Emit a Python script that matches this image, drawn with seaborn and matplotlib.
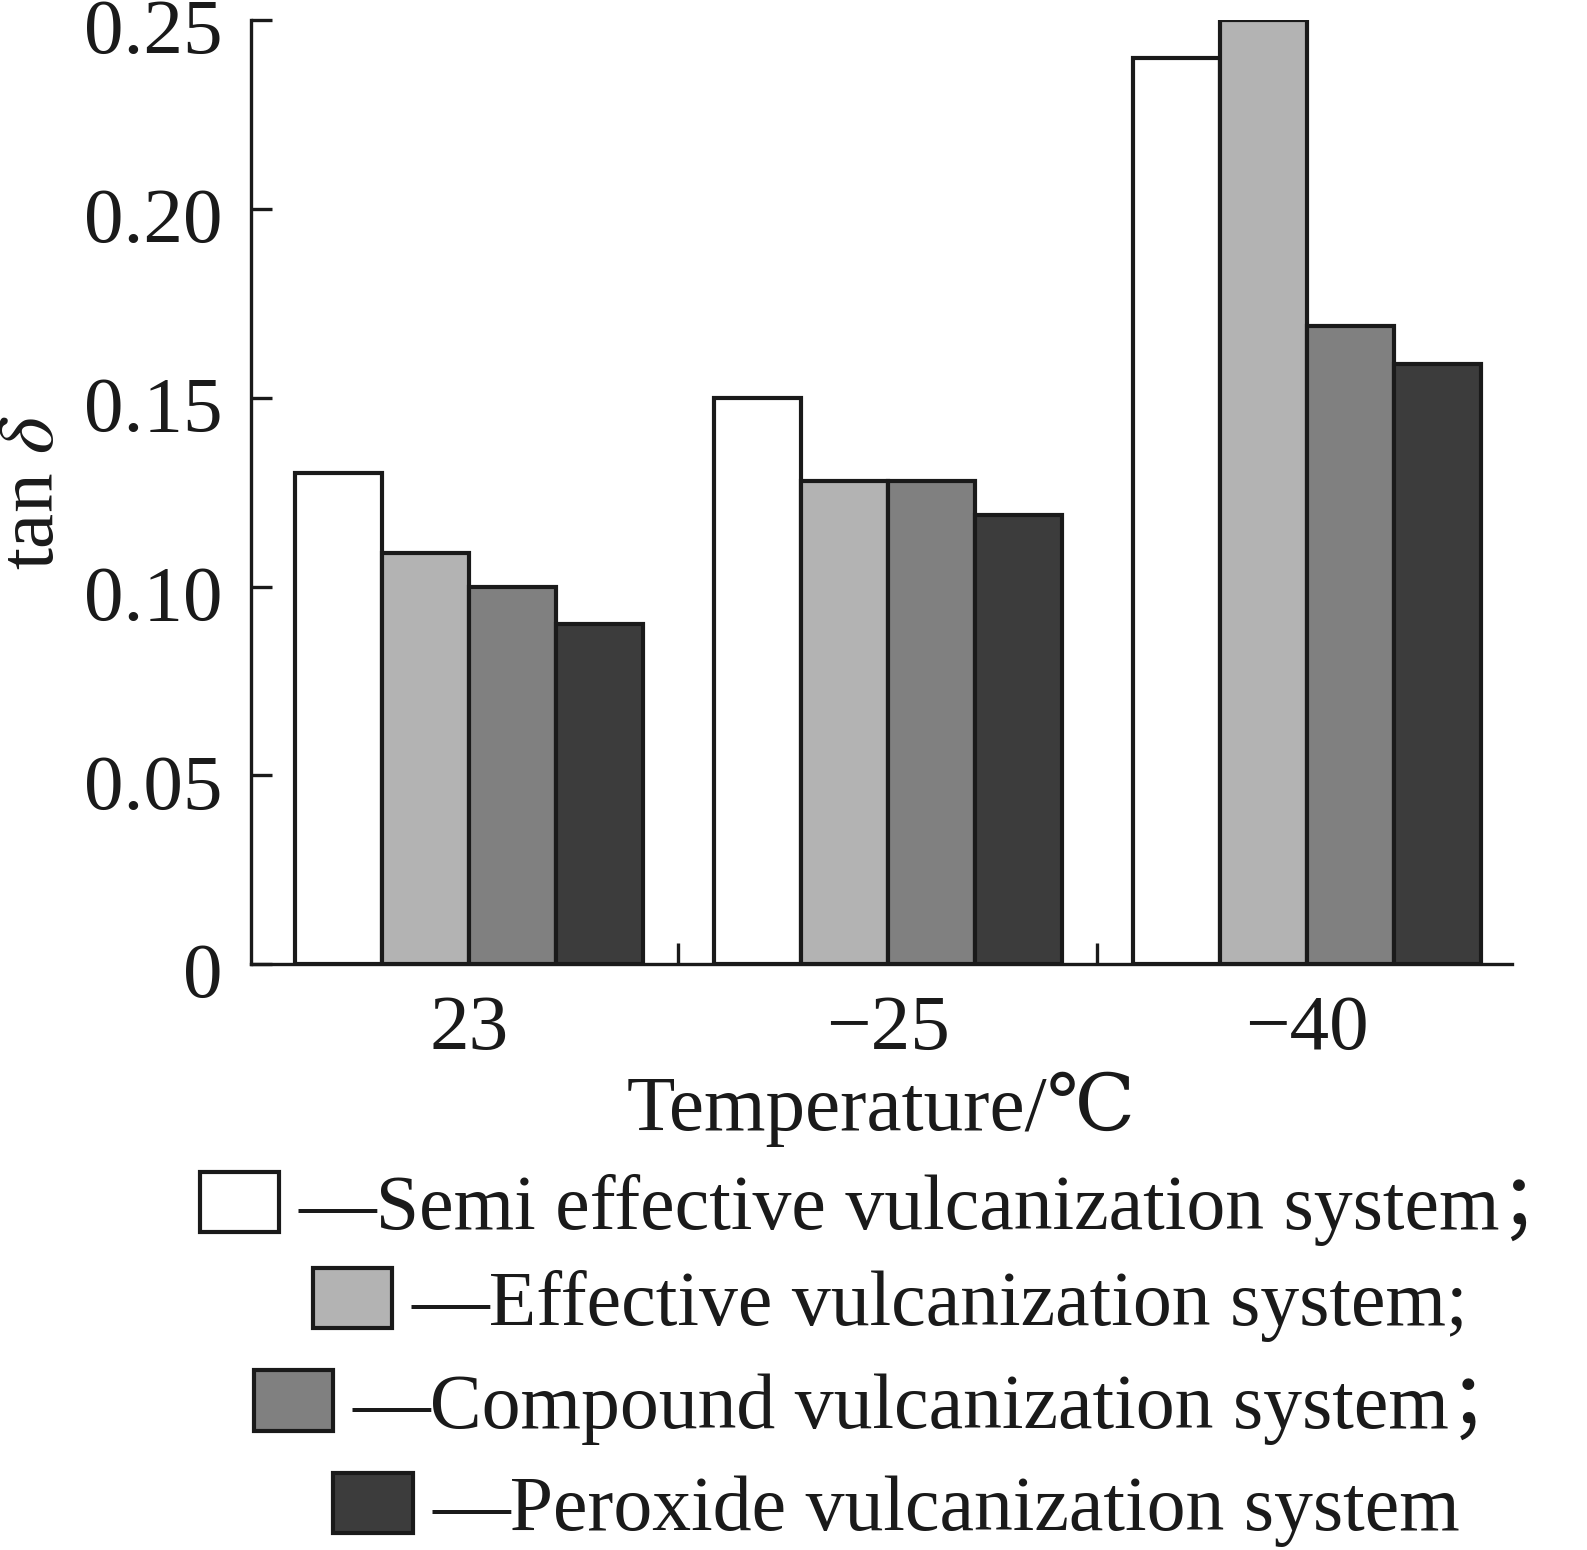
import numpy as np
import pandas as pd
import seaborn as sns
import matplotlib.pyplot as plt
import matplotlib.transforms as mtrans
from matplotlib.patches import Patch
from matplotlib.ticker import FixedLocator

# Data
temperatures = ["23", "\u221225", "\u221240"]
systems = [
    "Semi effective vulcanization system\uff1b",
    "Effective vulcanization system;",
    "Compound vulcanization system\uff1b",
    "Peroxide vulcanization system",
]
semi_effective = [0.130, 0.150, 0.240]
effective = [0.109, 0.128, 0.250]
compound = [0.100, 0.128, 0.169]
peroxide = [0.090, 0.119, 0.159]
y_ticks = [0, 0.05, 0.10, 0.15, 0.20, 0.25]
y_tick_labels = ["0", "0.05", "0.10", "0.15", "0.20", "0.25"]

colors = ["#ffffff", "#b3b3b3", "#808080", "#3c3c3c"]
edge = "#1a1a1a"

rows = []
for sys_name, vals in zip(systems, [semi_effective, effective, compound, peroxide]):
    for t, v in zip(temperatures, vals):
        rows.append({"temp": t, "tan_delta": v, "system": sys_name})
df = pd.DataFrame(rows)

sns.set_style("white")
fonts = ["Liberation Serif", "DejaVu Serif", "Noto Sans CJK SC"]
plt.rcParams["font.family"] = fonts
plt.rcParams["mathtext.fontset"] = "stix"
for key in ["text.color", "axes.labelcolor", "xtick.color", "ytick.color"]:
    plt.rcParams[key] = edge

fig = plt.figure(figsize=(15.87, 15.5), dpi=100)
ax = fig.add_axes([0.158, 0.378, 0.795, 0.609])

sns.barplot(
    data=df, x="temp", y="tan_delta", hue="system",
    order=temperatures, hue_order=systems, palette=colors,
    width=0.83, saturation=1, edgecolor=edge, linewidth=3,
    legend=False, ax=ax,
)

ax.set_ylim(0, 0.25)
ax.set_xlim(-0.52, 2.49)
ax.set_yticks(y_ticks)
ax.set_yticklabels(y_tick_labels)
ax.xaxis.set_minor_locator(FixedLocator([0.5, 1.5]))

for side in ["top", "right"]:
    ax.spines[side].set_visible(False)
for side in ["left", "bottom"]:
    ax.spines[side].set_linewidth(2.4)
    ax.spines[side].set_color(edge)

fs = 57
ax.tick_params(axis="y", left=True, direction="in", length=15, width=2.4,
               color=edge, labelsize=fs, pad=20)
ax.tick_params(axis="x", which="major", bottom=False, length=0,
               labelsize=fs, pad=22)
ax.tick_params(axis="x", which="minor", bottom=True, direction="in",
               length=15, width=2.4, color=edge)

# nudge the y tick labels down a little, like the reference
shift = mtrans.ScaledTranslation(0, -6 / 100, fig.dpi_scale_trans)
for lab in ax.get_yticklabels():
    lab.set_transform(lab.get_transform() + shift)

ax.set_xlabel("Temperature/\u2103", fontsize=fs, labelpad=4)
ax.set_ylabel(r"tan $\delta$", fontsize=fs, labelpad=10)

# legend rows: box, dash and label, staggered as in the reference
legend_x = [0.126, 0.197, 0.160, 0.210]
legend_y = [0.220, 0.158, 0.092, 0.026]
for name, col, lx, ly in zip(systems, colors, legend_x, legend_y):
    handle = Patch(facecolor=col, edgecolor=edge, linewidth=3)
    fig.legend(
        [handle], ["\u2014" + name], loc="center left",
        bbox_to_anchor=(lx, ly), frameon=False, fontsize=56,
        handlelength=1.02, handleheight=0.82, handletextpad=0.25,
        borderpad=0, borderaxespad=0,
    )

fig.savefig("out.png", dpi=100)
